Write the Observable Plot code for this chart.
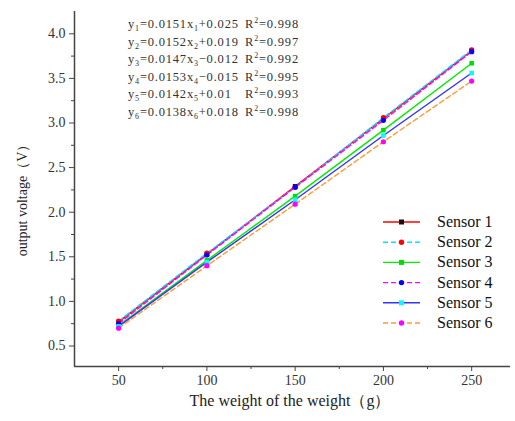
<!DOCTYPE html>
<html>
<head>
<meta charset="utf-8">
<script src="https://cdn.jsdelivr.net/npm/d3@7"></script>
<script src="https://cdn.jsdelivr.net/npm/@observablehq/plot@0.6"></script>
<style>
  body { margin: 0; background: #fff; }
  #chart svg { display: block; }
</style>
</head>
<body>
<div id="chart"></div>
<script>
const weights = [50, 100, 150, 200, 250];
const sensorNames = ["Sensor 1", "Sensor 2", "Sensor 3", "Sensor 4", "Sensor 5", "Sensor 6"];
const sensor1 = [0.77, 1.53, 2.29, 3.05, 3.81];
const sensor2 = [0.78, 1.54, 2.28, 3.06, 3.82];
const sensor3 = [0.73, 1.46, 2.18, 2.92, 3.67];
const sensor4 = [0.75, 1.52, 2.28, 3.03, 3.80];
const sensor5 = [0.72, 1.44, 2.14, 2.86, 3.56];
const sensor6 = [0.70, 1.40, 2.09, 2.79, 3.47];
const slopeLabels = ["0.0151", "0.0152", "0.0147", "0.0153", "0.0142", "0.0138"];
const interceptLabels = ["+0.025", "+0.019", "−0.012", "−0.015", "+0.01", "+0.018"];
const r2Labels = ["0.998", "0.997", "0.992", "0.995", "0.993", "0.998"];
const xTicks = [50, 100, 150, 200, 250];
const xMinorTicks = [75, 125, 175, 225];
const yTicks = [0.5, 1.0, 1.5, 2.0, 2.5, 3.0, 3.5, 4.0];
const yMinorTicks = [0.75, 1.25, 1.75, 2.25, 2.75, 3.25, 3.75];

const lineColors = ["#ff0000", "#00e5ff", "#00ee00", "#ff00ff", "#3333ff", "#ff9933"];
const markColors = ["#111111", "#ff0000", "#00dd00", "#0000ff", "#00ffff", "#ff00ff"];
const dashes = [null, "5,3", null, "5,3", null, "5,3"];
const symbols = ["square", "circle", "square", "circle", "square", "circle"];

const series = [sensor1, sensor2, sensor3, sensor4, sensor5, sensor6];
const rows = series.flatMap((vals, i) => vals.map((v, j) => ({ sensor: sensorNames[i], idx: i, w: weights[j], v })));

const serif = "Liberation Serif, Times New Roman, serif";

const marks = [];
series.forEach((vals, i) => {
  const d = rows.filter(r => r.idx === i);
  marks.push(Plot.line(d, { x: "w", y: "v", stroke: lineColors[i], strokeWidth: 1.4, strokeDasharray: dashes[i] }));
});
series.forEach((vals, i) => {
  const d = rows.filter(r => r.idx === i);
  marks.push(Plot.dot(d, { x: "w", y: "v", symbol: symbols[i], fill: markColors[i], stroke: "none", r: 2.6 }));
});

const plot = Plot.plot({
  width: 515,
  height: 421,
  marginLeft: 74,
  marginRight: 5,
  marginTop: 11,
  marginBottom: 55,
  style: { fontFamily: serif, background: "#fff", color: "#333" },
  x: { domain: [25, 272] },
  y: { domain: [0.27, 4.25] },
  marks: [
    ...marks,
    Plot.ruleX([25], { stroke: "#444", strokeWidth: 1.5 }),
    Plot.ruleY([0.27], { stroke: "#444", strokeWidth: 1.5 }),
    Plot.axisX(xTicks, { tickSize: 5, tickPadding: 4, fontSize: 14, stroke: "#444", fill: "#333", label: null }),
    Plot.axisX(xMinorTicks, { tickSize: 3, text: null, stroke: "#444", label: null }),
    Plot.axisY(yTicks, { tickSize: 5, tickPadding: 4, fontSize: 14, stroke: "#444", fill: "#333", label: null, tickFormat: d3.format(".1f") }),
    Plot.axisY(yMinorTicks, { tickSize: 3, text: null, stroke: "#444", label: null })
  ]
});

const svg = d3.select(plot);

// axis titles
svg.append("text")
  .attr("x", 290).attr("y", 406)
  .attr("text-anchor", "middle")
  .attr("font-size", 16).attr("fill", "#222")
  .text("The weight of the weight（g）");
svg.append("text")
  .attr("transform", "translate(27,197) rotate(-90)")
  .attr("text-anchor", "middle")
  .attr("font-size", 14).attr("fill", "#222")
  .text("output voltage（V）");

// equations
const eq = svg.append("g").attr("font-size", 12.5).attr("fill", "#333").attr("text-anchor", "start");
slopeLabels.forEach((s, i) => {
  const y = 28 + i * 17.6;
  const t = eq.append("text").attr("x", 128).attr("y", y).attr("text-anchor", "start").style("letter-spacing", "0.8px");
  t.append("tspan").text("y");
  t.append("tspan").attr("font-size", 8).attr("dy", 3).text(i + 1);
  t.append("tspan").attr("dy", -3).text("=" + s + "x");
  t.append("tspan").attr("font-size", 8).attr("dy", 3).text(i + 1);
  t.append("tspan").attr("dy", -3).text(interceptLabels[i]);
  const r = eq.append("text").attr("x", 245).attr("y", y).attr("text-anchor", "start").style("letter-spacing", "0.8px");
  r.append("tspan").text("R");
  r.append("tspan").attr("font-size", 8).attr("dy", -5).text("2");
  r.append("tspan").attr("dy", 5).text("=" + r2Labels[i]);
});

// legend
const lg = svg.append("g").attr("font-size", 16).attr("fill", "#111").attr("text-anchor", "start");
sensorNames.forEach((name, i) => {
  const y = 222 + i * 20.2;
  lg.append("line").attr("x1", 383).attr("x2", 420).attr("y1", y).attr("y2", y)
    .attr("stroke", lineColors[i]).attr("stroke-width", 1.4)
    .attr("stroke-dasharray", dashes[i] || null);
  if (symbols[i] === "square") {
    lg.append("rect").attr("x", 401.5 - 2.5).attr("y", y - 2.5).attr("width", 5).attr("height", 5).attr("fill", markColors[i]);
  } else {
    lg.append("circle").attr("cx", 401.5).attr("cy", y).attr("r", 2.7).attr("fill", markColors[i]);
  }
  lg.append("text").attr("x", 437).attr("y", y + 5).attr("text-anchor", "start").text(name);
});

svg.selectAll("text").style("font-family", serif);

document.getElementById("chart").appendChild(plot);
</script>
</body>
</html>
